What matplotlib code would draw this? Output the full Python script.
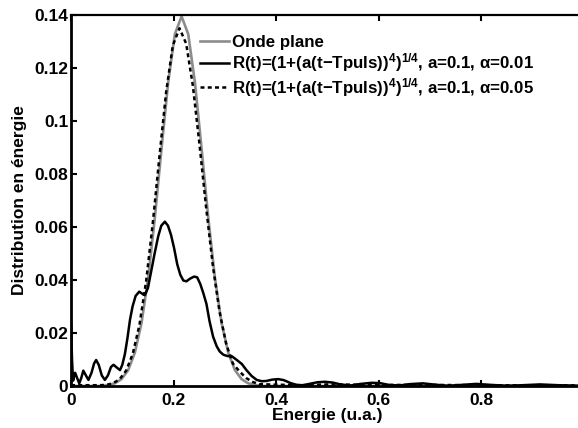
import matplotlib
matplotlib.use('Agg')
import matplotlib.pyplot as plt
from matplotlib.ticker import FormatStrFormatter

plt.rcParams['font.family'] = ['Liberation Sans', 'DejaVu Sans']
plt.rcParams['font.weight'] = 'bold'
plt.rcParams['axes.labelweight'] = 'bold'
plt.rcParams['font.size'] = 12.5
plt.rcParams['mathtext.fontset'] = 'custom'
plt.rcParams['mathtext.rm'] = 'Liberation Sans'
plt.rcParams['mathtext.it'] = 'Liberation Sans'
plt.rcParams['mathtext.bf'] = 'Liberation Sans:bold'

# Onde plane (grey)
e_plane = [0.0, 0.0595, 0.0725, 0.0855, 0.0985, 0.1115, 0.1245, 0.1375, 0.1505, 0.1635,
           0.1765, 0.1895, 0.2025, 0.2155, 0.2285, 0.2415, 0.2545, 0.2675, 0.2805,
           0.2935, 0.3065, 0.3195, 0.3325, 0.3455, 0.3585, 0.3715, 1.0]
d_plane = [0.0, 0.0, 0.0004, 0.0010, 0.0026, 0.0060, 0.0126, 0.0238, 0.0409, 0.0636,
           0.0897, 0.1147, 0.1328, 0.1395, 0.1328, 0.1147, 0.0897, 0.0636, 0.0409,
           0.0238, 0.0126, 0.0060, 0.0026, 0.0010, 0.0004, 0.0, 0.0]

# alpha = 0.01 (solid)
e_a01 = [0.000, 0.002, 0.004, 0.008, 0.012, 0.016, 0.020, 0.024, 0.029, 0.034, 0.040,
         0.045, 0.049, 0.054, 0.060, 0.066, 0.072, 0.078, 0.083, 0.089, 0.0955, 0.100,
         0.105, 0.110, 0.115, 0.120, 0.126, 0.133, 0.139, 0.144, 0.150, 0.156, 0.163,
         0.170, 0.176, 0.183, 0.189, 0.195, 0.201, 0.207, 0.213, 0.219, 0.225, 0.232,
         0.240, 0.246, 0.252, 0.258, 0.264, 0.270, 0.277, 0.284, 0.290, 0.297, 0.305,
         0.313, 0.322, 0.333, 0.342, 0.352, 0.362, 0.372, 0.381, 0.392, 0.404, 0.415,
         0.428, 0.440, 0.452, 0.465, 0.480, 0.495, 0.510, 0.525, 0.545, 0.565, 0.586,
         0.602, 0.620, 0.640, 0.660, 0.686, 0.710, 0.735, 0.760, 0.790, 0.820, 0.850,
         0.880, 0.914, 0.950, 0.990]
d_a01 = [0.024, 0.010, 0.002, 0.005, 0.003, 0.001, 0.003, 0.0058, 0.004, 0.0023, 0.005,
         0.0085, 0.0098, 0.008, 0.004, 0.0023, 0.004, 0.0072, 0.008, 0.007, 0.006, 0.008,
         0.012, 0.018, 0.025, 0.030, 0.0340, 0.0356, 0.0348, 0.0343, 0.037, 0.043, 0.050,
         0.0565, 0.0605, 0.062, 0.0605, 0.057, 0.052, 0.046, 0.042, 0.0398, 0.0395, 0.0405,
         0.0413, 0.041, 0.0385, 0.035, 0.031, 0.0245, 0.0186, 0.0150, 0.0130, 0.0118, 0.0113,
         0.0113, 0.010, 0.0083, 0.006, 0.0038, 0.0023, 0.0018, 0.0019, 0.0024, 0.0026, 0.0022,
         0.0011, 0.0004, 0.0003, 0.0008, 0.0014, 0.0016, 0.0013, 0.0006, 0.0002, 0.0008, 0.0012,
         0.0011, 0.0004, 0.0002, 0.0007, 0.0010, 0.0005, 0.0001, 0.0004, 0.0008, 0.0004, 0.0001,
         0.0003, 0.0006, 0.0003, 0.0001]

# alpha = 0.05 (dashed)
e_a05 = [0.0, 0.0545, 0.0685, 0.0815, 0.0945, 0.1075, 0.1205, 0.1335, 0.1465, 0.1595,
         0.1725, 0.1855, 0.1985, 0.2115, 0.2245, 0.2375, 0.2505, 0.2635, 0.2765,
         0.2895, 0.3025, 0.3155, 0.3285, 0.3415, 0.3545, 0.3675, 0.40, 0.45, 0.50,
         0.60, 0.70, 0.80, 1.0]
d_a05 = [0.0003, 0.0003, 0.0004, 0.0010, 0.0025, 0.0058, 0.0122, 0.0231, 0.0396, 0.0616,
         0.0868, 0.1110, 0.1285, 0.1350, 0.1292, 0.1134, 0.0911, 0.0672, 0.0454,
         0.0281, 0.0159, 0.0085, 0.0055, 0.0030, 0.0015, 0.0007, 0.0005, 0.0003, 0.0006,
         0.0004, 0.0004, 0.0003, 0.0002]

labels = ['Onde plane',
          r'R(t)=(1+(a(t−Tpuls))$^{\mathbf{4}}$)$^{\mathbf{1/4}}$, a=0.1, $\alpha$=0.01',
          r'R(t)=(1+(a(t−Tpuls))$^{\mathbf{4}}$)$^{\mathbf{1/4}}$, a=0.1, $\alpha$=0.05']

fig = plt.figure(figsize=(5.78, 4.28), dpi=100)
ax = fig.add_axes([71/578, 42/428, 513/578, 371/428])

ax.plot(e_plane, d_plane, color='#8c8c8c', lw=1.9, label=labels[0])
ax.plot(e_a01, d_a01, color='black', lw=1.8, label=labels[1])
ax.plot(e_a05, d_a05, color='black', lw=1.8, linestyle=(0, (1.6, 1.3)), label=labels[2])

ax.set_xlim(0, 1.0)
ax.set_ylim(0, 0.14)
ax.set_xticks([0, 0.2, 0.4, 0.6, 0.8])
ax.set_yticks([0, 0.02, 0.04, 0.06, 0.08, 0.1, 0.12, 0.14])
ax.yaxis.set_major_formatter(FormatStrFormatter('%g'))
ax.xaxis.set_major_formatter(FormatStrFormatter('%g'))
ax.tick_params(direction='in', length=4, width=1.5, top=True, right=False)
ax.tick_params(axis='x', pad=5)
ax.tick_params(axis='y', pad=2)
for s in ['left', 'bottom']:
    ax.spines[s].set_linewidth(2.0)
ax.spines['top'].set_linewidth(1.6)
ax.spines['right'].set_visible(False)

ax.set_xlabel('Energie (u.a.)')
ax.set_ylabel('Distribution en énergie')
ax.xaxis.set_label_coords(0.5, -0.06)
ax.yaxis.set_label_coords(-0.086, 0.5)

ax.legend(loc='upper left', bbox_to_anchor=(200/578, 1 - 35/428), bbox_transform=fig.transFigure,
          frameon=False, handlelength=1.7, handletextpad=0.2, labelspacing=0.08,
          borderpad=0, borderaxespad=0, prop={'size': 12.2, 'weight': 'bold'})

fig.savefig('out.png', dpi=100)
